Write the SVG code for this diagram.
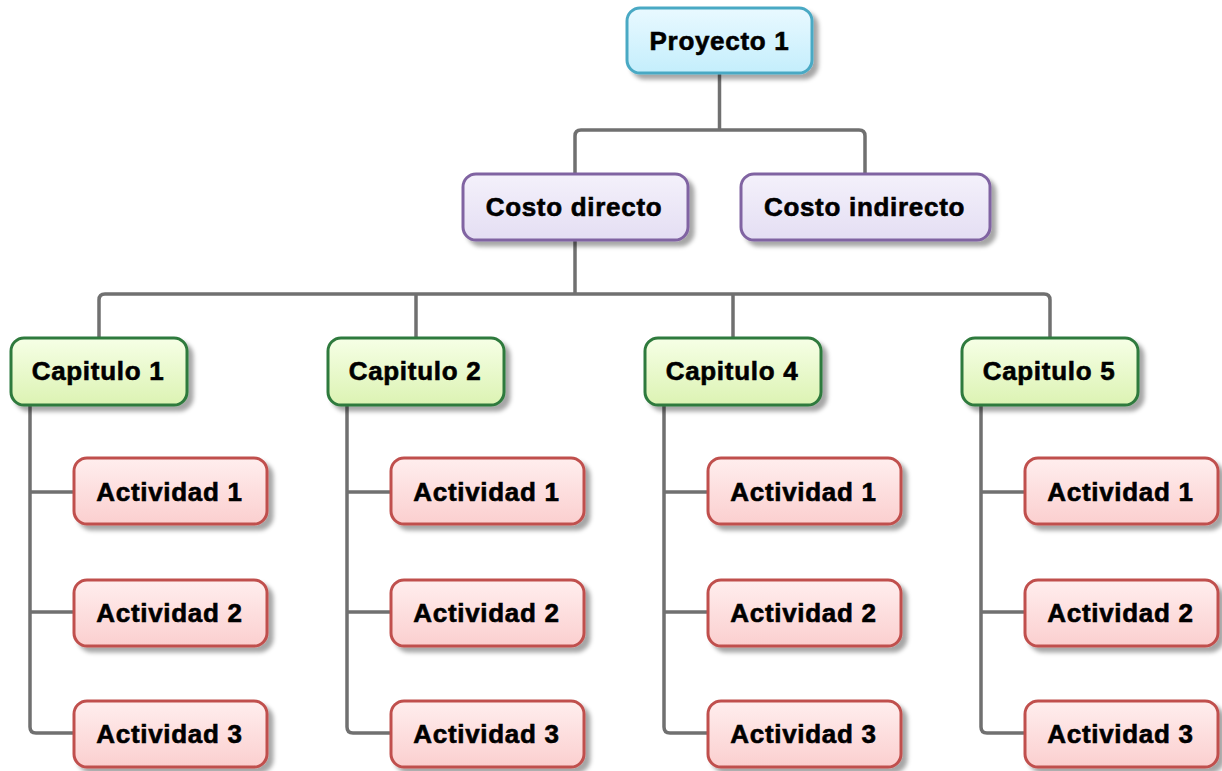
<svg xmlns="http://www.w3.org/2000/svg" width="1222" height="771" viewBox="0 0 1222 771">
<defs>
<linearGradient id="gBlue" x1="0" y1="0" x2="0" y2="1"><stop offset="0" stop-color="#e9f9ff"/><stop offset="1" stop-color="#c4eefc"/></linearGradient>
<linearGradient id="gPurple" x1="0" y1="0" x2="0" y2="1"><stop offset="0" stop-color="#f4f1fb"/><stop offset="1" stop-color="#e4def3"/></linearGradient>
<linearGradient id="gGreen" x1="0" y1="0" x2="0" y2="1"><stop offset="0" stop-color="#f6ffe6"/><stop offset="1" stop-color="#dcf3b3"/></linearGradient>
<linearGradient id="gRed" x1="0" y1="0" x2="0" y2="1"><stop offset="0" stop-color="#ffeeee"/><stop offset="1" stop-color="#fbcfcf"/></linearGradient>
<filter id="sh" x="-10%" y="-20%" width="130%" height="150%"><feDropShadow dx="5" dy="5" stdDeviation="2" flood-color="#000" flood-opacity="0.35"/></filter>
</defs>
<style>
.box{stroke-width:3;filter:url(#sh)}
.p{fill:url(#gBlue);stroke:#4aa9c4}
.c{fill:url(#gPurple);stroke:#8064a2}
.g{fill:url(#gGreen);stroke:#2f7a3c}
.r{fill:url(#gRed);stroke:#c0504d}
text{font-family:"Liberation Sans",Arial,sans-serif;font-weight:bold;font-size:26px;letter-spacing:0.7px;fill:#000;stroke:#000;stroke-width:0.6px;text-anchor:middle}
.con path{fill:none;stroke:#707070;stroke-width:3.5}
</style>
<rect width="1222" height="771" fill="#fff"/>
<g class="con" id="connectors">
<path d="M719.5,73 V130"/>
<path d="M575,174 V136 Q575,130 581,130 H859 Q865,130 865,136 V174"/>
<path d="M575,240 V294"/>
<path d="M99,338 V300 Q99,294 105,294 H1044 Q1050,294 1050,300 V338"/>
<path d="M416,294 V338"/>
<path d="M733,294 V338"/>
<path d="M30,405 V727 Q30,733 36,733 H74 M30,492 H74 M30,612 H74"/>
<path d="M347,405 V727 Q347,733 353,733 H391 M347,492 H391 M347,612 H391"/>
<path d="M664,405 V727 Q664,733 670,733 H708 M664,492 H708 M664,612 H708"/>
<path d="M981,405 V727 Q981,733 987,733 H1025 M981,492 H1025 M981,612 H1025"/>
</g>
<g id="proyecto1"><rect class="box p" x="627" y="8" width="185" height="65" rx="13"/><text x="719.5" y="50">Proyecto 1</text></g>
<g id="costo-directo"><rect class="box c" x="463" y="174" width="225" height="66" rx="13"/><text x="574" y="216">Costo directo</text></g>
<g id="costo-indirecto"><rect class="box c" x="741" y="174" width="249" height="66" rx="13"/><text x="864.5" y="216">Costo indirecto</text></g>
<g id="capitulo1"><rect class="box g" x="11" y="338" width="176" height="67" rx="13"/><text x="98" y="380">Capitulo 1</text></g>
<g id="capitulo2"><rect class="box g" x="328" y="338" width="176" height="67" rx="13"/><text x="415" y="380">Capitulo 2</text></g>
<g id="capitulo4"><rect class="box g" x="645" y="338" width="176" height="67" rx="13"/><text x="732" y="380">Capitulo 4</text></g>
<g id="capitulo5"><rect class="box g" x="962" y="338" width="176" height="67" rx="13"/><text x="1049" y="380">Capitulo 5</text></g>
<g id="c1a1"><rect class="box r" x="74" y="458" width="193" height="66" rx="13"/><text x="169.5" y="501">Actividad 1</text></g>
<g id="c1a2"><rect class="box r" x="74" y="580" width="193" height="66" rx="13"/><text x="169.5" y="622">Actividad 2</text></g>
<g id="c1a3"><rect class="box r" x="74" y="701" width="193" height="66" rx="13"/><text x="169.5" y="743">Actividad 3</text></g>
<g id="c2a1"><rect class="box r" x="391" y="458" width="193" height="66" rx="13"/><text x="486.5" y="501">Actividad 1</text></g>
<g id="c2a2"><rect class="box r" x="391" y="580" width="193" height="66" rx="13"/><text x="486.5" y="622">Actividad 2</text></g>
<g id="c2a3"><rect class="box r" x="391" y="701" width="193" height="66" rx="13"/><text x="486.5" y="743">Actividad 3</text></g>
<g id="c4a1"><rect class="box r" x="708" y="458" width="193" height="66" rx="13"/><text x="803.5" y="501">Actividad 1</text></g>
<g id="c4a2"><rect class="box r" x="708" y="580" width="193" height="66" rx="13"/><text x="803.5" y="622">Actividad 2</text></g>
<g id="c4a3"><rect class="box r" x="708" y="701" width="193" height="66" rx="13"/><text x="803.5" y="743">Actividad 3</text></g>
<g id="c5a1"><rect class="box r" x="1025" y="458" width="193" height="66" rx="13"/><text x="1120.5" y="501">Actividad 1</text></g>
<g id="c5a2"><rect class="box r" x="1025" y="580" width="193" height="66" rx="13"/><text x="1120.5" y="622">Actividad 2</text></g>
<g id="c5a3"><rect class="box r" x="1025" y="701" width="193" height="66" rx="13"/><text x="1120.5" y="743">Actividad 3</text></g>
</svg>
